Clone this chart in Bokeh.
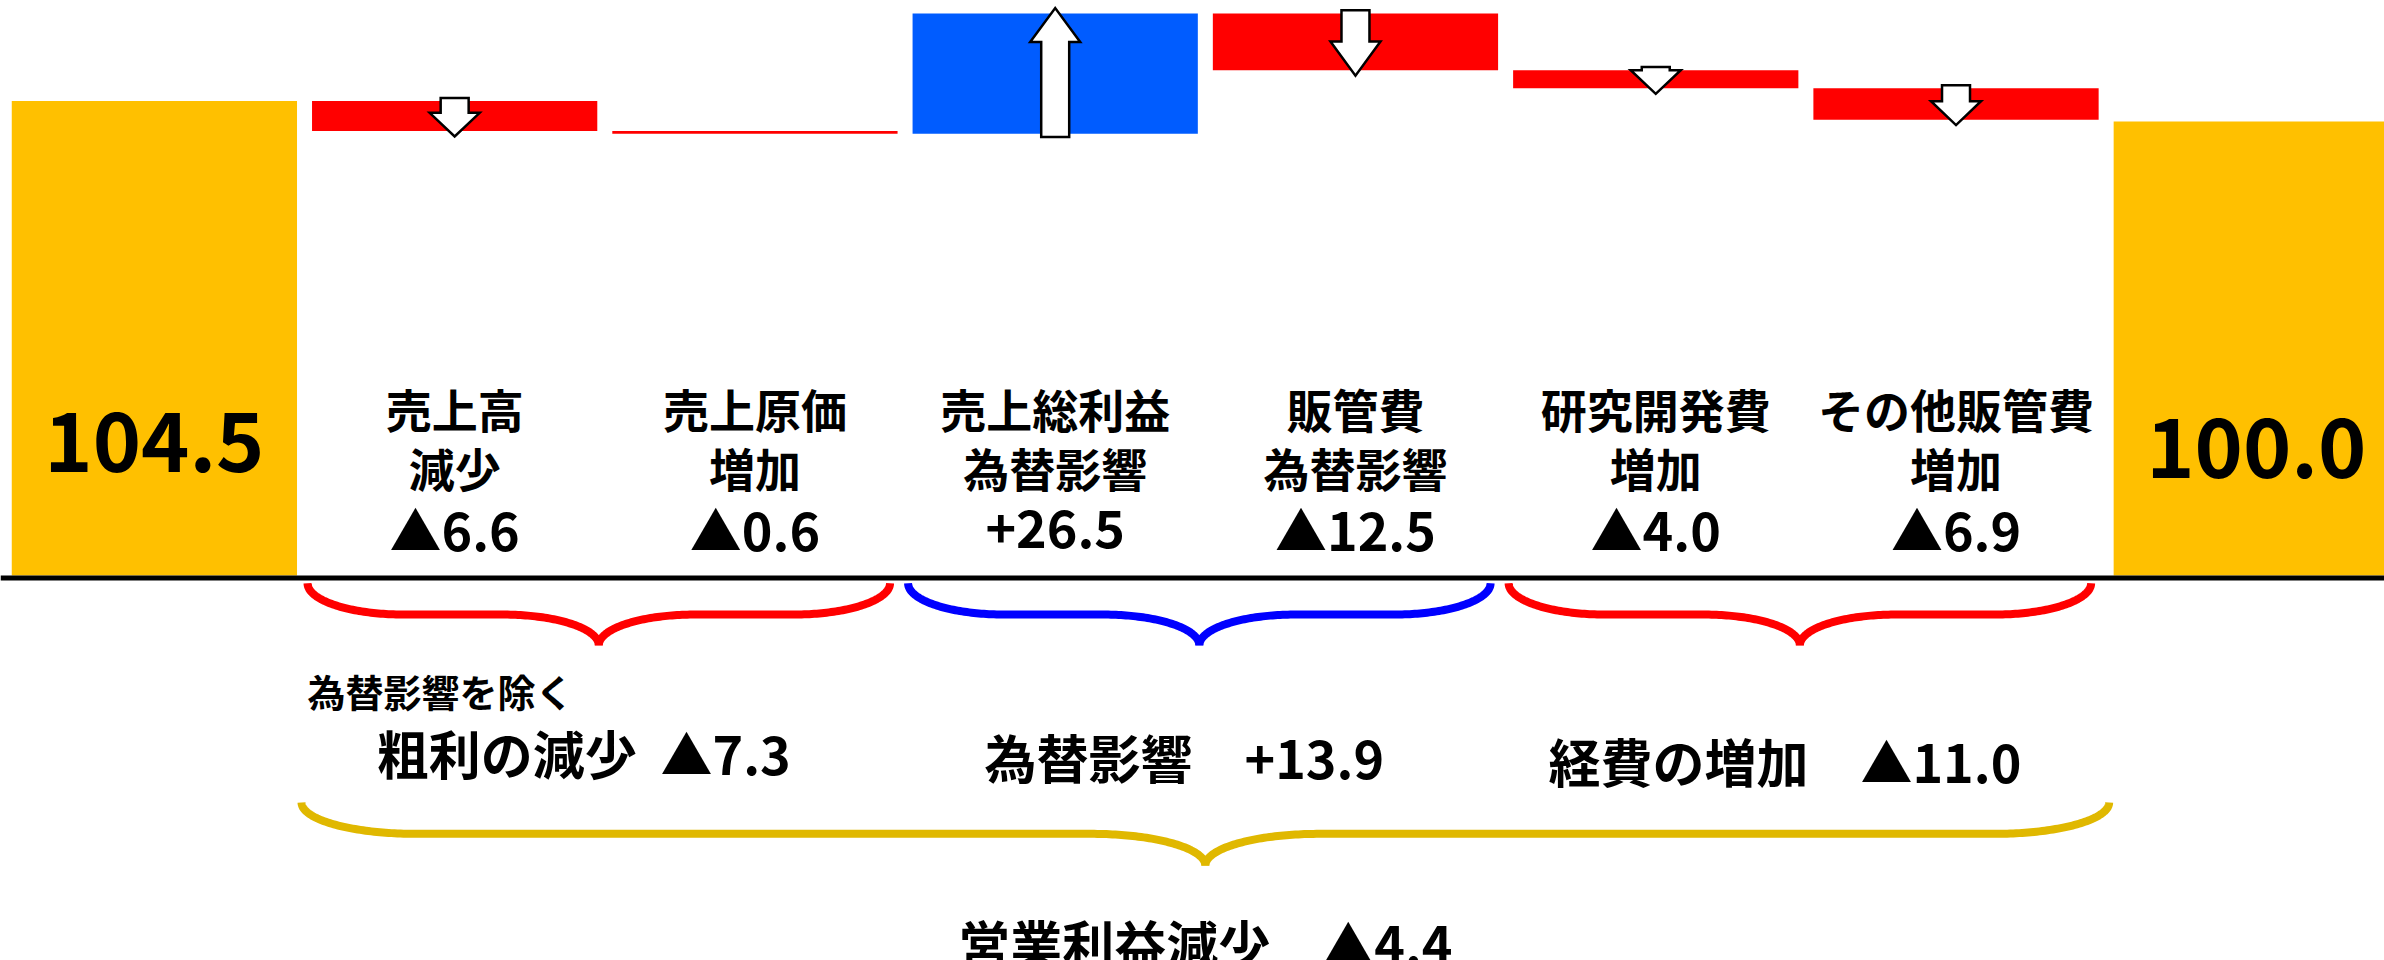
import numpy as np
from bokeh.plotting import figure
from bokeh.models import Range1d, Span
from bokeh.core.properties import value
from bokeh.embed import file_html
from bokeh.resources import INLINE

# ---------------- data ----------------
start_value = 104.5
end_value = 100.0
item_line1 = ["売上高", "売上原価", "売上総利益", "販管費", "研究開発費", "その他販管費"]
item_line2 = ["減少", "増加", "為替影響", "為替影響", "増加", "増加"]
item_changes = [-6.6, -0.6, 26.5, -12.5, -4.0, -6.9]

group_names = ["粗利の減少", "為替影響", "経費の増加"]
group_values = [-7.3, 13.9, -11.0]
group_first = [1, 3, 5]
group_last = [2, 4, 6]
group_notes = ["為替影響を除く", "", ""]
total_name = "営業利益減少"
total_value = -4.4

# ---------------- styles ----------------
GOLD = "#FFC000"
RED = "#FF0000"
BLUE = "#005CFF"
BRACE_BLUE = "#0000FF"
BRACE_GOLD = "#E0B800"
FONT = value("Noto Sans CJK JP")
BAR_W = 0.95


def fmt(v):
    return ("▲" if v < 0 else "+") + f"{abs(v):.1f}"


# ---------------- waterfall geometry from data ----------------
n_items = len(item_changes)
xs = list(range(n_items + 2))
bottoms, tops, colors = [0.0], [start_value], [GOLD]
level = start_value
for c in item_changes:
    new = level + c
    bottoms.append(min(level, new))
    tops.append(max(level, new))
    colors.append(BLUE if c > 0 else RED)
    level = new
bottoms.append(0.0)
tops.append(end_value)
colors.append(GOLD)

p = figure(width=2384, height=960,
           x_range=Range1d(-0.5125, 7.427), y_range=Range1d(-84.80, 126.65),
           x_axis_type=None, y_axis_type=None,
           output_backend="svg", toolbar_location=None, min_border=0)
p.grid.visible = False
p.outline_line_color = None
p.background_fill_color = "white"
p.border_fill_color = "white"

p.vbar(x=xs, width=BAR_W, bottom=bottoms, top=tops, fill_color=colors, line_color=None)

# baseline
p.add_layout(Span(location=-0.55, dimension="width", line_color="black", line_width=5))

# ---------------- arrows ----------------
HEAD_HW = 0.0833
SHAFT_HW = 0.0466
arrow_xs, arrow_ys = [], []
level = start_value
for i, c in enumerate(item_changes):
    new = level + c
    if abs(c) >= 1.0:
        cx = i + 1
        d = 1 if c > 0 else -1
        y_start = level - d * 0.7
        y_tip = new + d * 1.2
        length = abs(y_tip - y_start)
        head = min(7.5, max(5.2, 0.6 * length))
        y_head = y_tip - d * head
        arrow_xs.append([cx - SHAFT_HW, cx + SHAFT_HW, cx + SHAFT_HW, cx + HEAD_HW, cx,
                         cx - HEAD_HW, cx - SHAFT_HW])
        arrow_ys.append([y_start, y_start, y_head, y_head, y_tip, y_head, y_head])
    level = new
p.patches(arrow_xs, arrow_ys, fill_color="white", line_color="black", line_width=2.5,
          line_join="miter")

# ---------------- labels on bars ----------------
item_x = [i + 1 for i in range(n_items)]
p.text(x=item_x, y=[36.8] * n_items, text=item_line1, text_font=FONT, text_font_style="bold",
       text_font_size="46px", text_align="center", text_baseline="middle", text_color="black")
p.text(x=item_x, y=[23.8] * n_items, text=item_line2, text_font=FONT, text_font_style="bold",
       text_font_size="46px", text_align="center", text_baseline="middle", text_color="black")
p.text(x=item_x, y=[10.35] * n_items, text=[fmt(c) for c in item_changes], text_font=FONT,
       text_font_style="bold", text_font_size="52px", text_align="center",
       text_baseline="middle", text_color="black")

p.text(x=[0, n_items + 1], y=[29.5, 28.3], text=[f"{start_value:.1f}", f"{end_value:.1f}"],
       text_font=FONT, text_font_style="bold", text_font_size="82px", text_align="center",
       text_baseline="middle", text_color="black")


# ---------------- braces ----------------
def brace_halves(xl, xr, ytop, ymid, ytip, rx, n=60):
    xm = (xl + xr) / 2
    t = np.linspace(0, np.pi / 2, n)
    x1 = xl + rx * (1 - np.cos(t))
    y1 = ytop - (ytop - ymid) * np.sin(t)
    x2 = xm - rx + rx * np.sin(t)
    y2 = ytip + (ymid - ytip) * np.cos(t)
    lx = np.concatenate([x1, [xm - rx * 0.999], x2])
    ly = np.concatenate([y1, [ymid], y2])
    rxs = 2 * xm - lx
    return [list(lx), list(rxs)], [list(ly), list(ly)]


bx, by, bc = [], [], []
for gi in range(len(group_names)):
    xl = group_first[gi] - 0.49
    xr = group_last[gi] + 0.45
    hx, hy = brace_halves(xl, xr, -1.7, -8.6, -15.4, 0.32)
    col = BRACE_BLUE if group_values[gi] > 0 else RED
    bx += hx
    by += hy
    bc += [col, col]
hx, hy = brace_halves(group_first[0] - 0.51, group_last[-1] + 0.51, -50.0, -56.9, -63.9, 0.38)
bx += hx
by += hy
bc += [BRACE_GOLD, BRACE_GOLD]
p.multi_line(bx, by, line_color=bc, line_width=8, line_cap="butt", line_join="round")

# ---------------- group texts ----------------
gaps = ["\u00a0\u00a0", "\u3000", "\u3000"]
gx = [(group_first[i] - 0.49 + group_last[i] + 0.45) / 2 - 0.05 for i in range(len(group_names))]
gtext = [f"{group_names[i]}{gaps[i]}{fmt(group_values[i])}" for i in range(len(group_names))]
p.text(x=gx, y=[-39.0, -39.9, -40.8], text=gtext, text_font=FONT, text_font_style="bold",
       text_font_size="52px", text_align="center", text_baseline="middle", text_color="black")

for i, note in enumerate(group_notes):
    if note:
        p.text(x=[group_first[i] - 0.49], y=[-25.3], text=[note], text_font=FONT,
               text_font_style="bold", text_font_size="38px", text_align="left",
               text_baseline="middle", text_color="black")

p.text(x=[(group_first[0] + group_last[-1]) / 2], y=[-80.8],
       text=[f"{total_name}\u3000{fmt(total_value)}"], text_font=FONT, text_font_style="bold",
       text_font_size="52px", text_align="center", text_baseline="middle", text_color="black")

open("out.html", "w").write(file_html(p, INLINE))
